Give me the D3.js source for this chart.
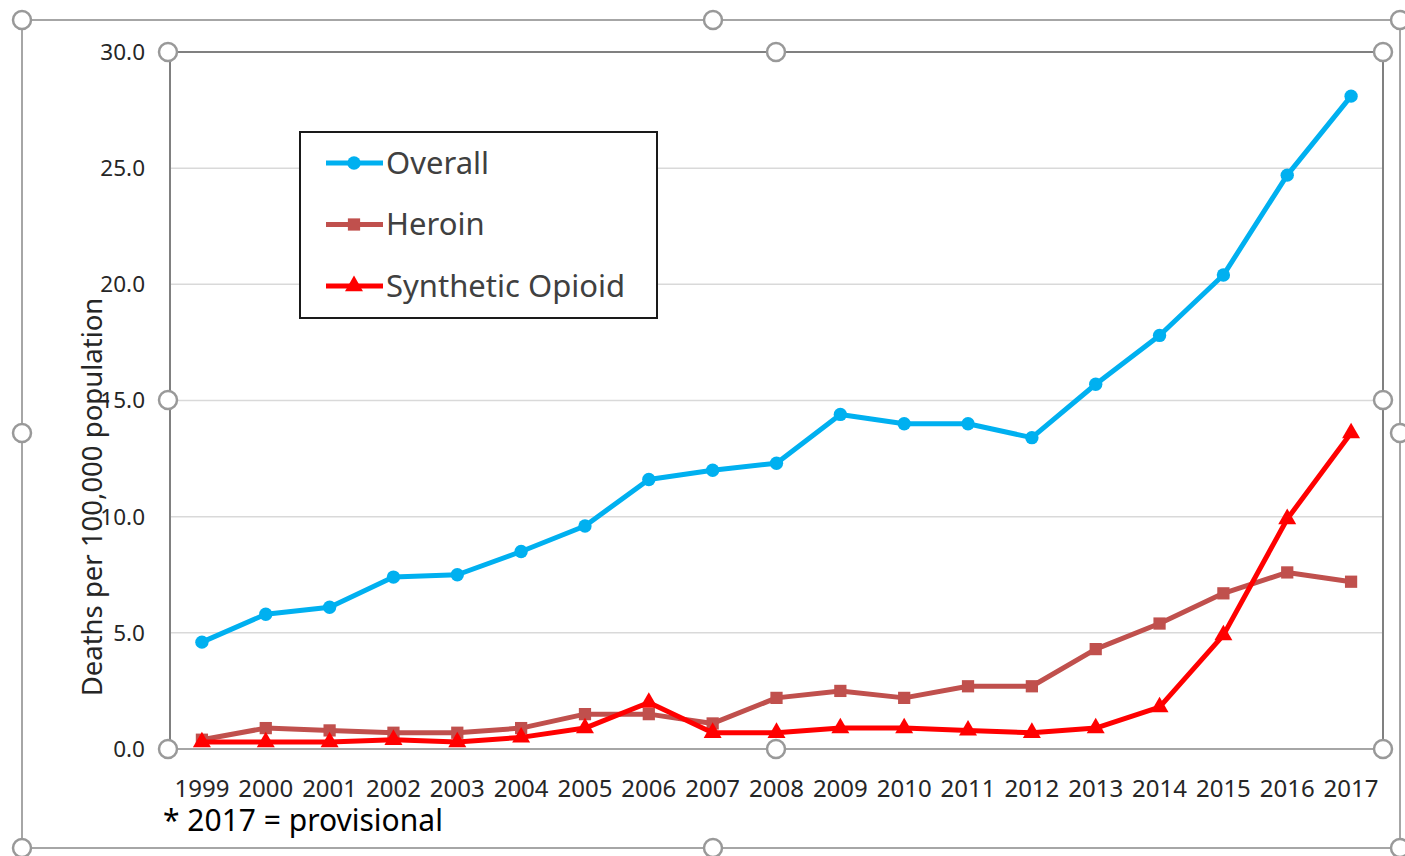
<!DOCTYPE html>
<html>
<head>
<meta charset="utf-8">
<script src="https://cdn.jsdelivr.net/npm/d3@7"></script>
<style>
  body { margin: 0; background: #fff; }
  text { font-family: "Noto Sans", "Open Sans", sans-serif; }
</style>
</head>
<body>
<script>
// data
var years = ["1999","2000","2001","2002","2003","2004","2005","2006","2007","2008",
             "2009","2010","2011","2012","2013","2014","2015","2016","2017"];
var overall = [4.6,5.8,6.1,7.4,7.5,8.5,9.6,11.6,12.0,12.3,14.4,14.0,14.0,13.4,15.7,17.8,20.4,24.7,28.1];
var heroin = [0.4,0.9,0.8,0.7,0.7,0.9,1.5,1.5,1.1,2.2,2.5,2.2,2.7,2.7,4.3,5.4,6.7,7.6,7.2];
var synthetic = [0.3,0.3,0.3,0.4,0.3,0.5,0.9,2.0,0.7,0.7,0.9,0.9,0.8,0.7,0.9,1.8,4.9,9.9,13.6];
var yTicks = [0,5,10,15,20,25,30];
var seriesNames = ["Overall","Heroin","Synthetic Opioid"];

var width = 1405, height = 856;
var plotLeft = 170, plotRight = 1383, plotTop = 52, plotBottom = 749;

var svg = d3.select("body").append("svg")
  .attr("width", width)
  .attr("height", height);

var x = d3.scaleBand().domain(years).range([plotLeft, plotRight]);
var y = d3.scaleLinear().domain([0, 30]).range([plotBottom, plotTop]);

// outer chart frame (selection box)
svg.append("rect")
  .attr("x", 22).attr("y", 20)
  .attr("width", 1378).attr("height", 828)
  .attr("fill", "none").attr("stroke", "#a6a6a6").attr("stroke-width", 2);

// gridlines
svg.append("g").selectAll("line")
  .data(yTicks.slice(1, -1))
  .enter().append("line")
  .attr("x1", plotLeft).attr("x2", plotRight)
  .attr("y1", function(d) { return y(d); })
  .attr("y2", function(d) { return y(d); })
  .attr("stroke", "#d9d9d9").attr("stroke-width", 1.5);

// plot area frame
svg.append("path")
  .attr("d", "M" + plotLeft + "," + plotBottom + "V" + plotTop + "H" + plotRight + "V" + plotBottom)
  .attr("fill", "none").attr("stroke", "#808080").attr("stroke-width", 2);
svg.append("line")
  .attr("x1", plotLeft).attr("x2", plotRight)
  .attr("y1", plotBottom).attr("y2", plotBottom)
  .attr("stroke", "#a6a6a6").attr("stroke-width", 2);

// y tick labels
svg.append("g").selectAll("text")
  .data(yTicks)
  .enter().append("text")
  .attr("x", 145)
  .attr("y", function(d) { return y(d); })
  .attr("dy", "0.35em")
  .attr("text-anchor", "end")
  .attr("font-size", 22.5)
  .attr("fill", "#262626")
  .text(function(d) { return d.toFixed(1); });

// x tick labels
svg.append("g").selectAll("text")
  .data(years)
  .enter().append("text")
  .attr("x", function(d) { return x(d) + x.bandwidth() / 2; })
  .attr("y", 797)
  .attr("text-anchor", "middle")
  .attr("font-size", 24)
  .attr("fill", "#262626")
  .text(function(d) { return d; });

// y axis title
svg.append("text")
  .attr("transform", "translate(102,497) rotate(-90)")
  .attr("text-anchor", "middle")
  .attr("font-size", 27.5)
  .attr("fill", "#262626")
  .text("Deaths per 100,000 population");

// footnote
svg.append("text")
  .attr("x", 163).attr("y", 831)
  .attr("font-size", 30)
  .attr("fill", "#000")
  .text("* 2017 = provisional");

var series = [
  { name: seriesNames[0], values: overall, color: "#00b0f0", marker: d3.symbolCircle, size: 140 },
  { name: seriesNames[1], values: heroin, color: "#c0504d", marker: d3.symbolSquare, size: 150 },
  { name: seriesNames[2], values: synthetic, color: "#ff0000", marker: d3.symbolTriangle, size: 140 }
];

var line = d3.line()
  .x(function(d, i) { return x(years[i]) + x.bandwidth() / 2; })
  .y(function(d) { return y(d); });

// series drawn in order, later ones on top
series.forEach(function(s) {
  var g = svg.append("g");
  g.append("path")
    .attr("d", line(s.values))
    .attr("fill", "none")
    .attr("stroke", s.color)
    .attr("stroke-width", 5)
    .attr("stroke-linejoin", "round");
  g.selectAll("path.pt")
    .data(s.values)
    .enter().append("path")
    .attr("class", "pt")
    .attr("transform", function(d, i) {
      return "translate(" + (x(years[i]) + x.bandwidth() / 2) + "," + y(d) + ")";
    })
    .attr("d", d3.symbol().type(s.marker).size(s.size))
    .attr("fill", s.color);
});

// legend
var legend = svg.append("g");
legend.append("rect")
  .attr("x", 300).attr("y", 132)
  .attr("width", 357).attr("height", 186)
  .attr("fill", "#fff").attr("stroke", "#1a1a1a").attr("stroke-width", 2);
series.forEach(function(s, i) {
  var ly = 163 + i * 61.5;
  legend.append("line")
    .attr("x1", 326).attr("x2", 383)
    .attr("y1", ly).attr("y2", ly)
    .attr("stroke", s.color).attr("stroke-width", 5);
  legend.append("path")
    .attr("transform", "translate(354," + ly + ")")
    .attr("d", d3.symbol().type(s.marker).size(s.size))
    .attr("fill", s.color);
  legend.append("text")
    .attr("x", 386).attr("y", ly)
    .attr("dy", "0.35em")
    .attr("font-size", 31)
    .attr("fill", "#404040")
    .text(s.name);
});

// selection handles
var outerHandles = [[22,20],[713,20],[1400,20],[22,433],[1400,433],[22,848],[713,848],[1400,848]];
var innerHandles = [[168,52],[776,52],[1383,52],[168,400],[1383,400],[168,749],[776,749],[1383,749]];
svg.append("g").selectAll("circle")
  .data(outerHandles.concat(innerHandles))
  .enter().append("circle")
  .attr("cx", function(d) { return d[0]; })
  .attr("cy", function(d) { return d[1]; })
  .attr("r", 9)
  .attr("fill", "#fff")
  .attr("stroke", "#999")
  .attr("stroke-width", 2.5);
</script>
</body>
</html>
